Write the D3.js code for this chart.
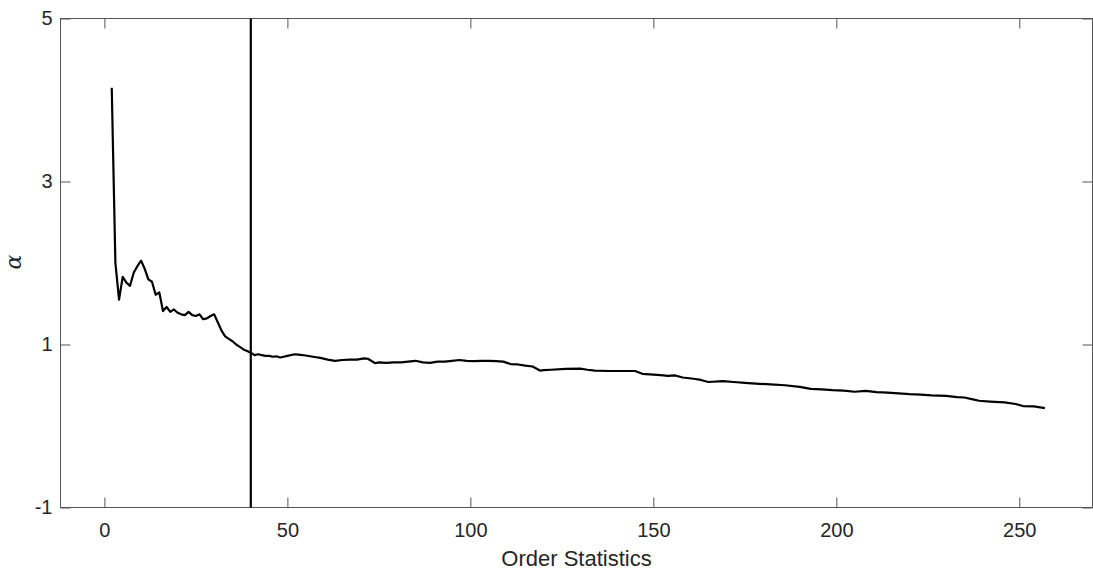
<!DOCTYPE html>
<html>
<head>
<meta charset="utf-8">
<script src="https://cdn.jsdelivr.net/npm/d3@7"></script>
<style>
  body { margin: 0; background: #fff; }
  text { font-family: "Liberation Sans", Arial, sans-serif; }
</style>
</head>
<body>
<div id="chart"></div>
<script>
// data
var orderStat = [2,3,4,5,6,7,8,9,10,11,12,13,14,15,16,17,18,19,20,21,22,23,24,25,26,27,28,29,30,
  31,32,33,34,35,36,37,38,39,40,41,42,43,44,45,46,47,48,49,50,52,53,55,57,59,61,63,65,67,69,71,72,
  74,75,77,79,81,83,85,87,89,91,93,95,97,99,101,103,105,107,109,111,113,115,117,119,120,122,126,130,
  132,134,138,142,145,147,150,152,154,156,158,161,163,165,169,172,175,178,182,186,190,193,196,199,
  202,205,208,211,214,217,220,223,226,230,233,235,237,239,242,246,249,251,254,257];
var alphaHat = [4.15,2.0,1.55,1.83,1.76,1.72,1.88,1.96,2.03,1.93,1.80,1.77,1.61,1.64,1.41,1.46,1.40,1.43,1.39,1.37,1.36,1.40,1.36,1.35,1.37,1.31,1.32,1.35,1.37,
  1.27,1.17,1.10,1.07,1.04,1.00,0.97,0.94,0.92,0.90,0.87,0.88,0.87,0.86,0.86,0.85,0.855,0.84,0.85,0.86,0.88,0.875,0.865,0.85,0.835,0.815,0.80,0.81,0.815,0.815,0.83,0.825,
  0.77,0.78,0.775,0.78,0.78,0.79,0.80,0.78,0.775,0.79,0.79,0.80,0.81,0.80,0.795,0.80,0.80,0.795,0.79,0.76,0.755,0.74,0.73,0.68,0.685,0.69,0.70,0.705,
  0.69,0.68,0.675,0.675,0.675,0.64,0.63,0.625,0.615,0.62,0.595,0.58,0.565,0.54,0.55,0.54,0.53,0.52,0.51,0.50,0.48,0.455,0.45,0.44,
  0.435,0.42,0.43,0.415,0.41,0.40,0.39,0.385,0.375,0.37,0.355,0.35,0.33,0.31,0.30,0.29,0.27,0.245,0.24,0.22];
var cutoff = 40;
var xTicks = [0,50,100,150,200,250];
var yTicks = [-1,1,3,5];

var width = 1093, height = 574;
var margin = {left: 60.5, top: 18.5, right: 0.5, bottom: 66.5};
var innerW = width - margin.left - margin.right;
var innerH = height - margin.top - margin.bottom;

var svg = d3.select("#chart").append("svg")
  .attr("width", width).attr("height", height);
var g = svg.append("g").attr("transform", "translate(" + margin.left + "," + margin.top + ")");

var x = d3.scaleLinear().domain([-12, 270]).range([0, innerW]);
var y = d3.scaleLinear().domain([-1, 5]).range([innerH, 0]);

var axisColor = "#555";
var plain = function(d) { return String(d); }; // keep "-1" with a hyphen like the original

function styleAxis(sel) {
  sel.select(".domain").remove();
  sel.selectAll(".tick line").attr("stroke", axisColor);
  sel.selectAll(".tick text").attr("fill", "#262626").attr("font-size", 20);
}

g.append("g").attr("transform", "translate(0," + innerH + ")")
  .call(d3.axisBottom(x).tickValues(xTicks).tickSize(-10).tickPadding(15).tickFormat(plain))
  .call(styleAxis);
g.append("g")
  .call(d3.axisTop(x).tickValues(xTicks).tickSize(-10).tickFormat(""))
  .call(styleAxis);
g.append("g")
  .call(d3.axisLeft(y).tickValues(yTicks).tickSize(-10).tickPadding(8).tickFormat(plain))
  .call(styleAxis);
g.append("g").attr("transform", "translate(" + innerW + ",0)")
  .call(d3.axisRight(y).tickValues(yTicks).tickSize(-10).tickFormat(""))
  .call(styleAxis);

// box
g.append("rect").attr("width", innerW).attr("height", innerH)
  .attr("fill", "none").attr("stroke", axisColor).attr("stroke-width", 1);

// threshold line
g.append("line")
  .attr("x1", x(cutoff)).attr("x2", x(cutoff))
  .attr("y1", 0).attr("y2", innerH)
  .attr("stroke", "#000").attr("stroke-width", 2.2);

var line = d3.line()
  .x(function(d, i) { return x(orderStat[i]); })
  .y(function(d) { return y(d); });

g.append("path").datum(alphaHat)
  .attr("d", line)
  .attr("fill", "none").attr("stroke", "#000")
  .attr("stroke-width", 2.2).attr("stroke-linejoin", "round");

// axis labels
svg.append("text")
  .attr("x", margin.left + innerW / 2).attr("y", 566)
  .attr("text-anchor", "middle").attr("font-size", 22).attr("fill", "#262626")
  .text("Order Statistics");

svg.append("text")
  .attr("transform", "translate(21," + (margin.top + innerH / 2 - 1) + ") rotate(-90)")
  .attr("text-anchor", "middle")
  .style("font-family", "'DejaVu Serif', 'Liberation Serif', serif")
  .style("font-style", "italic")
  .attr("font-size", 22).attr("fill", "#262626")
  .text("α");
</script>
</body>
</html>
